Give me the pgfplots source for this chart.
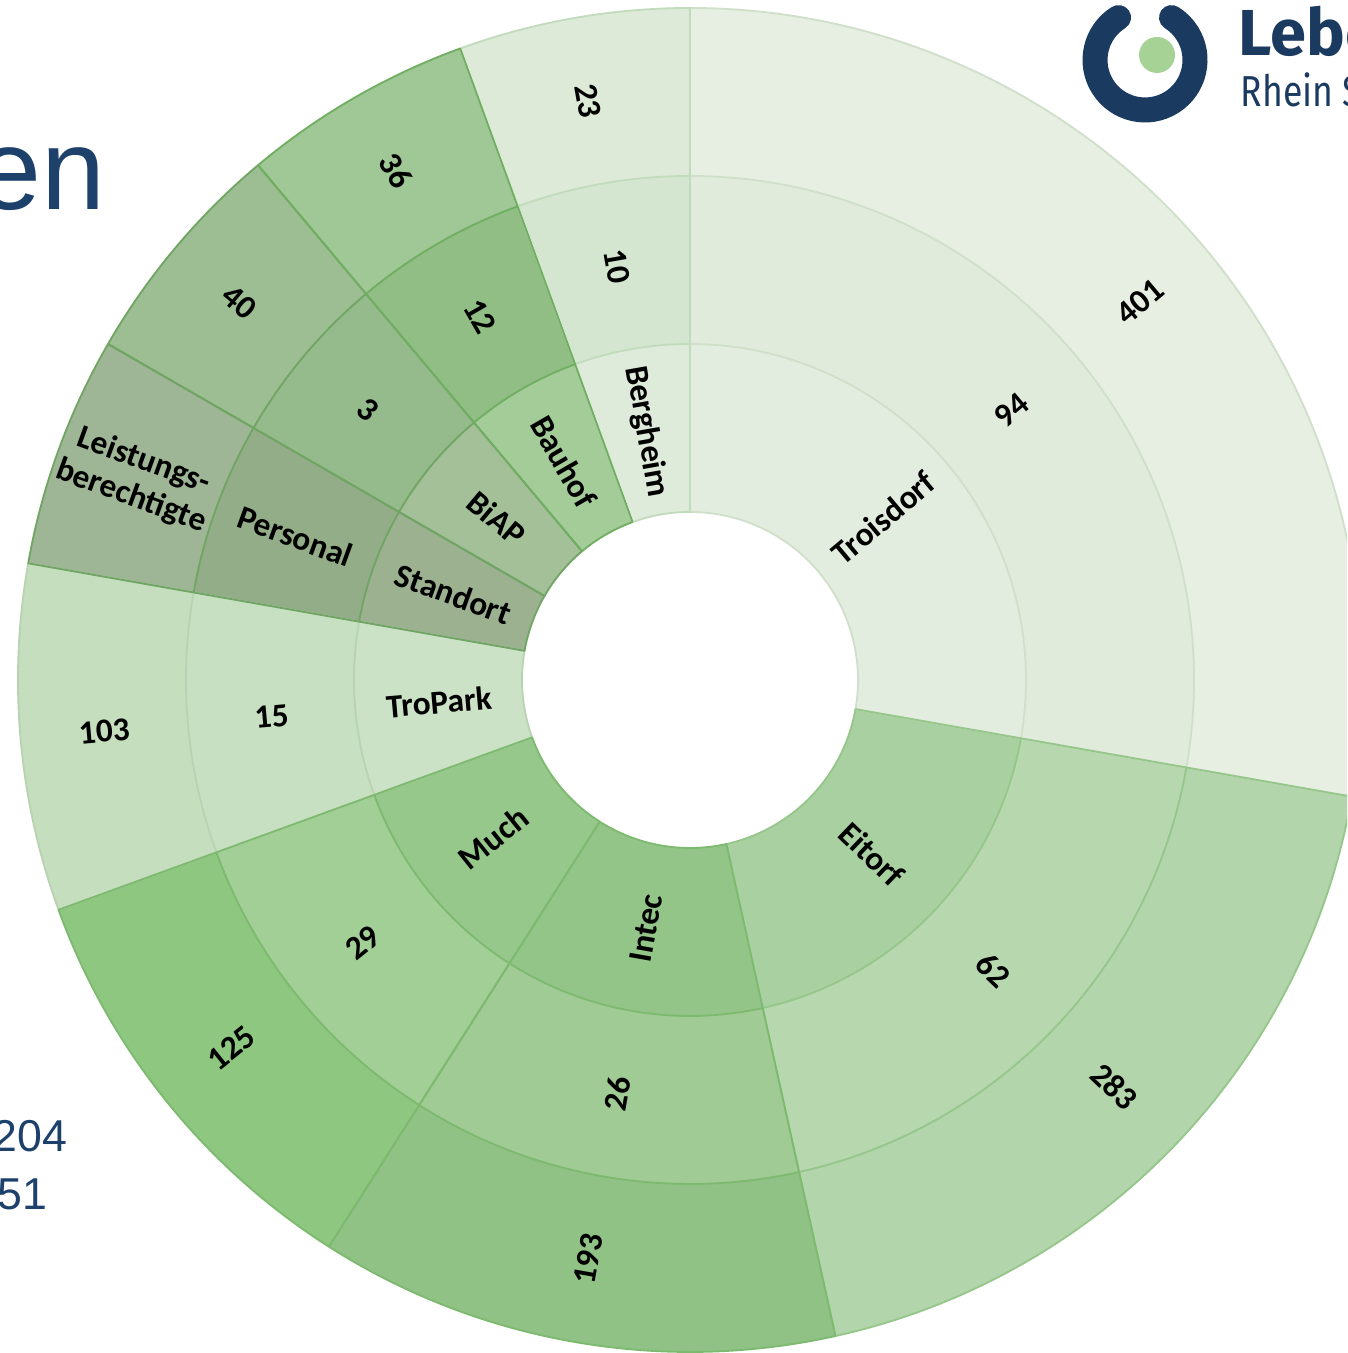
\documentclass[border=0pt]{standalone}
\usepackage{fontspec}
\setmainfont{Carlito}
\newfontfamily\arialfont{Liberation Sans}
\newfontfamily\logofont{Fira Sans}
\usepackage{graphicx}
\usepackage{pgfplots}
\usepackage{pgfplotstable}
\pgfplotsset{compat=1.18}

% fills: inner (I), middle (M), outer (O) ring; borders (bd)
\definecolor{cI0}{HTML}{E3EDDF}\definecolor{cM0}{HTML}{E1EBDC}\definecolor{cO0}{HTML}{E7EFE3}\definecolor{bd0}{HTML}{D0DFCA}
\definecolor{cI1}{HTML}{A9D0A0}\definecolor{cM1}{HTML}{B7D7AF}\definecolor{cO1}{HTML}{B3D5AB}\definecolor{bd1}{HTML}{95C68A}
\definecolor{cI2}{HTML}{93C588}\definecolor{cM2}{HTML}{A0CB95}\definecolor{cO2}{HTML}{90C185}\definecolor{bd2}{HTML}{7DBA70}
\definecolor{cI3}{HTML}{96C88B}\definecolor{cM3}{HTML}{A1CF96}\definecolor{cO3}{HTML}{8EC780}\definecolor{bd3}{HTML}{7DBA70}
\definecolor{cI4}{HTML}{CCE2C6}\definecolor{cM4}{HTML}{C7E0C1}\definecolor{cO4}{HTML}{C5DFBE}\definecolor{bd4}{HTML}{B9D3B2}
\definecolor{cI5}{HTML}{9BB190}\definecolor{cM5}{HTML}{94AD89}\definecolor{cO5}{HTML}{9EB695}\definecolor{bd5}{HTML}{70A563}
\definecolor{cI6}{HTML}{A4C099}\definecolor{cM6}{HTML}{95BA8B}\definecolor{cO6}{HTML}{9DBD93}\definecolor{bd6}{HTML}{70A563}
\definecolor{cI7}{HTML}{A4CC99}\definecolor{cM7}{HTML}{90BE84}\definecolor{cO7}{HTML}{A0C796}\definecolor{bd7}{HTML}{70AE62}
\definecolor{cI8}{HTML}{DEEBDA}\definecolor{cM8}{HTML}{D5E6D0}\definecolor{cO8}{HTML}{DCEAD7}\definecolor{bd8}{HTML}{C3DBBD}
\definecolor{navy}{HTML}{1B3A60}
\definecolor{titleblue}{HTML}{1D416B}
\definecolor{logogreen}{HTML}{A6D395}

\tikzset{lab/.style={font=\bfseries\fontsize{10}{11.3}\selectfont,text=black,align=center,inner sep=0pt}}

% span = angular share (degrees) of each branch; labels of the three rings
\pgfplotstableread[col sep=comma]{
span,inner,mid,outer
100,Troisdorf,94,401
67.5,Eitorf,62,283
45,Intec,26,193
37.5,Much,29,125
30,TroPark,15,103
20,Standort,Personal,Leistungsberechtigte
20,BiAP,3,40
20,Bauhof,12,36
20,Bergheim,10,23
}\sunburst

\begin{document}
\begin{tikzpicture}
\path[use as bounding box] (0,0) rectangle (404.1pt,405.9pt);
\clip (0,0) rectangle (404.1pt,405.9pt);
\fill[white] (0,0) rectangle (404.1pt,405.9pt);
\begin{axis}[x=0.3pt,y=0.3pt,xmin=0,xmax=1347,ymin=0,ymax=1353,
  hide axis,clip=false,anchor=origin,at={(0pt,0pt)}]
\coordinate (O) at (axis cs:690,673);
\xdef\acur{90}
% fills
\pgfplotsforeachungrouped \idx in {0,...,8}{%
  \pgfplotstablegetelem{\idx}{span}\of\sunburst
  \pgfmathsetmacro\aone{\acur}%
  \pgfmathsetmacro\atwo{\acur-\pgfplotsretval}%
  \xdef\acur{\atwo}%
  \expandafter\xdef\csname aS\idx\endcsname{\aone}%
  \expandafter\xdef\csname aE\idx\endcsname{\atwo}%
  \edef\temp{%
    \noexpand\fill[cI\idx] (O) ++(\aone:50.4pt) arc[start angle=\aone,end angle=\atwo,radius=50.4pt] -- ++(\atwo:50.4pt) arc[start angle=\atwo,end angle=\aone,radius=100.8pt] -- cycle;
    \noexpand\fill[cM\idx] (O) ++(\aone:100.8pt) arc[start angle=\aone,end angle=\atwo,radius=100.8pt] -- ++(\atwo:50.4pt) arc[start angle=\atwo,end angle=\aone,radius=151.2pt] -- cycle;
    \noexpand\fill[cO\idx] (O) ++(\aone:151.2pt) arc[start angle=\aone,end angle=\atwo,radius=151.2pt] -- ++(\atwo:50.4pt) arc[start angle=\atwo,end angle=\aone,radius=201.6pt] -- cycle;
  }\temp
}
% borders
\pgfplotsforeachungrouped \idx in {0,8,4,1,2,3,5,6,7}{%
  \edef\aone{\csname aS\idx\endcsname}\edef\atwo{\csname aE\idx\endcsname}%
  \edef\temp{\noexpand\draw[bd\idx,line width=0.55pt,line join=round] (O) ++(\aone:50.4pt) arc[start angle=\aone,end angle=\atwo,radius=50.4pt] -- ++(\atwo:151.2pt) arc[start angle=\atwo,end angle=\aone,radius=201.6pt] -- cycle (O) ++(\aone:100.8pt) arc[start angle=\aone,end angle=\atwo,radius=100.8pt] (O) ++(\aone:151.2pt) arc[start angle=\aone,end angle=\atwo,radius=151.2pt];}\temp
}
% labels
\pgfplotsforeachungrouped \idx in {0,...,8}{%
  \edef\aone{\csname aS\idx\endcsname}\edef\atwo{\csname aE\idx\endcsname}%
  \pgfmathsetmacro\amid{(\aone+\atwo)/2}%
  \pgfmathsetmacro\rot{ifthenelse(\amid+90<0,\amid+180,\amid)}%
  \pgfplotstablegetelem{\idx}{inner}\of\sunburst \let\labI\pgfplotsretval
  \pgfplotstablegetelem{\idx}{mid}\of\sunburst \let\labM\pgfplotsretval
  \pgfplotstablegetelem{\idx}{outer}\of\sunburst \let\labO\pgfplotsretval
  \ifnum\idx=5 \def\labO{Leistungs-\noexpand\\berechtigte}\fi
  \edef\temp{\noexpand\path (O) ++(\amid:75.6pt) node[lab,rotate=\rot]{\labI} (O) ++(\amid:126pt) node[lab,rotate=\rot]{\labM} (O) ++(\amid:176.4pt) node[lab,rotate=\rot]{\labO};}\temp
}
% slide decorations
\node[anchor=base east,text=titleblue,inner sep=0pt,font=\arialfont\fontsize{34.5}{40}\selectfont] at (axis cs:106,1143) {en};
\node[anchor=base east,text=titleblue,inner sep=0pt,font=\arialfont\fontsize{13.4}{16}\selectfont] at (axis cs:68,201) {204};
\node[anchor=base east,text=titleblue,inner sep=0pt,font=\arialfont\fontsize{13.4}{16}\selectfont] at (axis cs:48,143) {51};
\draw[navy,line width=7.5pt,line cap=round] (axis cs:1145,1293) ++(122:15pt) arc[start angle=122,end angle=418,radius=15pt];
\fill[logogreen] (axis cs:1157,1298) circle[radius=5.4pt];
\node[anchor=base west,text=navy,inner sep=0pt,font=\logofont\bfseries\fontsize{19.5}{22}\selectfont] at (axis cs:1238,1297) {Lebe};
\node[anchor=base west,text=navy,inner sep=0pt,font=\logofont\fontsize{13}{15}\selectfont] at (axis cs:1240,1246) {\scalebox{0.82}[1]{Rhein S}};
\end{axis}
\end{tikzpicture}
\end{document}
